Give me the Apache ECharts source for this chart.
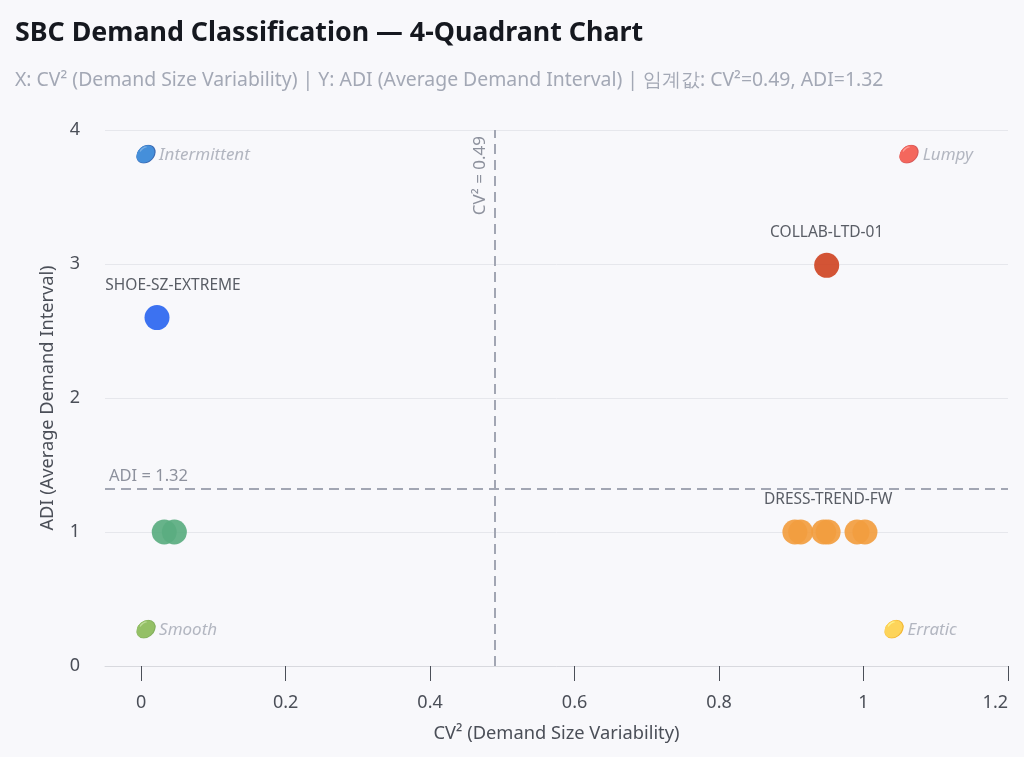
<!DOCTYPE html>
<html>
<head>
<meta charset="utf-8">
<script src="https://cdn.jsdelivr.net/npm/echarts@6/dist/echarts.min.js"></script>
<style>
html,body{margin:0;padding:0;background:#f8f8fb;}
#main{width:1024px;height:757px;}
</style>
</head>
<body>
<div id="main"></div>
<script>
// ---- data ----
const titleText = 'SBC Demand Classification — 4-Quadrant Chart';
const subtitleText = 'X: CV² (Demand Size Variability) | Y: ADI (Average Demand Interval) | 임계값: CV²=0.49, ADI=1.32';
const xAxisName = 'CV² (Demand Size Variability)';
const yAxisName = 'ADI (Average Demand Interval)';
const xTickValues = [0, 0.2, 0.4, 0.6, 0.8, 1, 1.2];
const cvThreshold = 0.49;
const adiThreshold = 1.32;

// [CV², ADI, label]
const smoothPoints = [[0.032, 1, ''], [0.046, 1, '']];
const erraticPoints = [[0.905, 1, ''], [0.913, 1, ''], [0.945, 1, ''], [0.951, 1, 'DRESS-TREND-FW'], [0.991, 1, ''], [1.002, 1, '']];
const intermittentPoints = [[0.022, 2.6, 'SHOE-SZ-EXTREME']];
const lumpyPoints = [[0.949, 2.99, 'COLLAB-LTD-01']];

// quadrant captions: [x, y, text]
const quadrantLabels = [
  [-0.011, 3.81, '🔵 Intermittent'],
  [1.046, 3.81, '🔴 Lumpy'],
  [-0.011, 0.27, '🟢 Smooth'],
  [1.025, 0.27, '🟡 Erratic']
];

const FONT = '"Noto Sans", "Open Sans", sans-serif';

function pointSeries(name, pts, color, labelOffset) {
  return {
    name: name,
    type: 'scatter',
    symbolSize: 25,
    itemStyle: { color: color, opacity: 0.92 },
    data: pts.map(p => ({ value: [p[0], p[1]], name: p[2] })),
    label: {
      show: true,
      position: 'top',
      distance: 12,
      offset: labelOffset || [0, 0],
      formatter: p => p.name || '',
      color: '#4b4f58',
      fontSize: 15.5,
      fontFamily: FONT
    },
    emphasis: { disabled: true },
    z: 3
  };
}

const chart = echarts.init(document.getElementById('main'));
chart.setOption({
  backgroundColor: '#f8f8fb',
  animation: false,
  title: {
    text: titleText,
    subtext: subtitleText,
    left: 10,
    top: 13,
    itemGap: 21,
    textStyle: { fontFamily: FONT, fontSize: 26.8, lineHeight: 30, fontWeight: 'bold', color: '#15181f' },
    subtextStyle: { fontFamily: FONT, fontSize: 19.4, lineHeight: 22, color: '#a3a8b5' }
  },
  grid: { left: 105, right: 16, top: 130, bottom: 91 },
  xAxis: {
    type: 'value',
    min: -0.05,
    max: 1.2,
    name: xAxisName,
    nameLocation: 'middle',
    nameGap: 59,
    nameTextStyle: { fontFamily: FONT, fontSize: 18.3, color: '#4b4f58' },
    axisLine: { show: true, lineStyle: { color: '#d8d9de' } },
    axisTick: { show: true, length: 15, customValues: xTickValues, lineStyle: { color: '#4b4f58' } },
    axisLabel: {
      fontFamily: FONT, fontSize: 18, color: '#4b4f58', margin: 28,
      customValues: xTickValues,
      alignMaxLabel: 'right',
      formatter: v => String(Math.round(v * 10) / 10)
    },
    splitLine: { show: false }
  },
  yAxis: {
    type: 'value',
    min: 0,
    max: 4,
    interval: 1,
    name: yAxisName,
    nameLocation: 'middle',
    nameGap: 48,
    nameTextStyle: { fontFamily: FONT, fontSize: 18.2, color: '#4b4f58' },
    axisLine: { show: false },
    axisTick: { show: false },
    axisLabel: { fontFamily: FONT, fontSize: 18, color: '#4b4f58', margin: 25 },
    splitLine: { show: true, lineStyle: { color: '#e6e7ec' } }
  },
  series: [
    Object.assign(pointSeries('Smooth', smoothPoints, '#5aad80'), {
      markLine: {
        silent: true,
        symbol: 'none',
        lineStyle: { color: '#a2a6b3', width: 2, type: [10, 6] },
        data: [
          {
            xAxis: cvThreshold,
            label: {
              show: true, position: 'insideEndTop', formatter: 'CV² = ' + cvThreshold,
              fontFamily: FONT, fontSize: 17, color: '#8d919d', distance: 6
            }
          },
          {
            yAxis: adiThreshold,
            label: {
              show: true, position: 'insideStartTop', formatter: 'ADI = ' + adiThreshold,
              fontFamily: FONT, fontSize: 16.5, color: '#8d919d', distance: 4
            }
          }
        ]
      }
    }),
    pointSeries('Erratic', erraticPoints, '#f29d3f'),
    pointSeries('Intermittent', intermittentPoints, '#2b66f0', [16, 0]),
    pointSeries('Lumpy', lumpyPoints, '#cf4524'),
    {
      name: 'quadrants',
      type: 'scatter',
      symbolSize: 1,
      itemStyle: { color: 'transparent' },
      silent: true,
      data: quadrantLabels.map(q => ({ value: [q[0], q[1]], name: q[2] })),
      label: {
        show: true,
        position: 'right',
        distance: 0,
        formatter: p => p.name,
        fontFamily: FONT,
        fontSize: 17,
        fontStyle: 'italic',
        color: '#a0a5b2'
      },
      z: 2
    }
  ]
});
</script>
</body>
</html>
